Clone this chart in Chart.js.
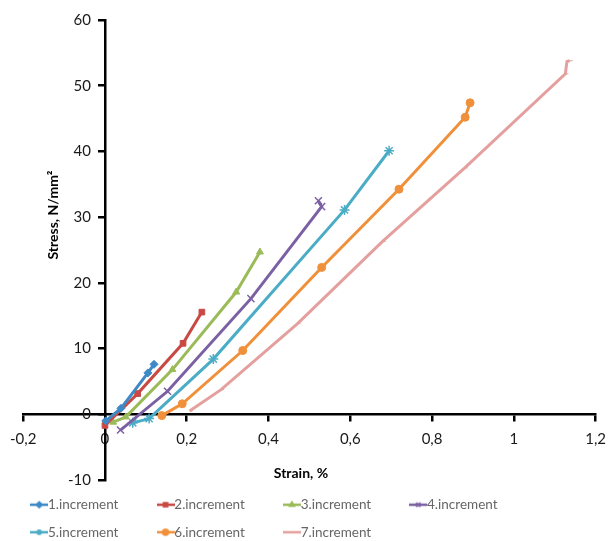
<!DOCTYPE html>
<html>
<head>
<meta charset="utf-8">
<script src="https://cdn.jsdelivr.net/npm/chart.js@4.4.0/dist/chart.umd.min.js"></script>
<style>
	html, body { margin: 0; padding: 0; background: #fff; }
</style>
</head>
<body>
<canvas id="chart" width="616" height="541"></canvas>
<script>
// данные
const seriesNames = ['1.increment', '2.increment', '3.increment', '4.increment', '5.increment', '6.increment', '7.increment']

const strain1 = [0.002, 0.039, 0.105, 0.12]
const stress1 = [-1.0, 0.9, 6.3, 7.6]
const strain2 = [0.0, 0.08, 0.191, 0.237]
const stress2 = [-1.7, 3.15, 10.8, 15.55]
const strain3 = [0.02, 0.051, 0.165, 0.321, 0.379]
const stress3 = [-1.2, -0.4, 6.8, 18.6, 24.7]
const strain4 = [0.038, 0.153, 0.357, 0.53, 0.522]
const stress4 = [-2.4, 3.5, 17.6, 31.6, 32.5]
const strain5 = [0.068, 0.108, 0.265, 0.586, 0.695]
const stress5 = [-1.3, -0.66, 8.4, 31.1, 40.1]
const strain6 = [0.139, 0.189, 0.337, 0.53, 0.719, 0.881, 0.893]
const stress6 = [-0.2, 1.6, 9.7, 22.35, 34.25, 45.2, 47.4]
const strain7 = [0.207, 0.284, 0.471, 0.679, 0.88, 1.126, 1.13, 1.137]
const stress7 = [0.5, 3.75, 13.8, 26.3, 37.5, 51.8, 53.7, 53.8]

const xTicks = [-0.2, 0, 0.2, 0.4, 0.6, 0.8, 1, 1.2]
const yTicks = [-10, 0, 10, 20, 30, 40, 50, 60]

const xTitle = 'Strain, %'
const yTitle = 'Stress, N/mm\u00B2'

const colors = ['#3D8AC7', '#C94A44', '#9BBB59', '#7B61A3', '#4BACC6', '#F0903A', '#E4A09E']
const markers = ['rectRot', 'rect', 'triangle', 'crossRot', 'star', 'circle', 'dash']

const strains = [strain1, strain2, strain3, strain4, strain5, strain6, strain7]
const stresses = [stress1, stress2, stress3, stress4, stress5, stress6, stress7]

const FONT = 'Lato'
const LEGEND_SIZE = 13.5

function toPoints(xs, ys) {
	return xs.map((x, i) => ({ x, y: ys[i] }))
}

function fmt(v) {
	return String(Math.round(v * 10) / 10).replace('.', ',')
}

// маленькая картинка для легенды: линия с маркером
function legendMarker(color, style) {
	const c = document.createElement('canvas')
	c.width = 18
	c.height = 10
	const g = c.getContext('2d')
	g.strokeStyle = color
	g.fillStyle = color
	g.lineWidth = 2.5
	g.beginPath()
	g.moveTo(0, 5)
	g.lineTo(18, 5)
	g.stroke()
	if (Chart.helpers && Chart.helpers.drawPoint) {
		g.lineWidth = 1.5
		Chart.helpers.drawPoint(g, { pointStyle: style, radius: 3, borderWidth: 1.5, rotation: 0 }, 9, 5)
	}
	return c
}

// подгоняем ширину подписей, чтобы колонки легенды были ровными
const measure = document.createElement('canvas').getContext('2d')
measure.font = LEGEND_SIZE + 'px ' + FONT
function padLabel(text, target) {
	let t = text
	while (measure.measureText(t + ' ').width <= target) t += ' '
	return t
}

const datasets = seriesNames.map((name, i) => ({
	label: name,
	data: toPoints(strains[i], stresses[i]),
	showLine: true,
	borderColor: colors[i],
	backgroundColor: colors[i],
	borderWidth: 3,
	pointStyle: markers[i],
	pointRadius: markers[i] === 'crossRot' || markers[i] === 'star' ? 5 : markers[i] === 'dash' ? 3 : 4,
	pointBorderWidth: markers[i] === 'crossRot' || markers[i] === 'star' ? 1.5 : 1,
	pointBackgroundColor: colors[i],
	pointBorderColor: colors[i],
	tension: 0,
}))

// подписи осей и подписи делений оси Y (ось стоит на x = 0)
const axisText = {
	id: 'axisText',
	afterDraw(chart) {
		const ctx = chart.ctx
		const xs = chart.scales.x
		const ys = chart.scales.y
		ctx.save()
		ctx.fillStyle = '#1a1a1a'
		ctx.font = '15px ' + FONT
		ctx.textAlign = 'right'
		ctx.textBaseline = 'middle'
		const x0 = xs.getPixelForValue(0)
		ys.ticks.forEach(t => {
			ctx.fillText(fmt(t.value), x0 - 14, ys.getPixelForValue(t.value))
		})
		ctx.fillStyle = '#000'
		ctx.font = 'bold 14px ' + FONT
		ctx.textAlign = 'center'
		ctx.fillText(xTitle, 301, 473)
		ctx.translate(53, 215)
		ctx.rotate(-Math.PI / 2)
		ctx.fillText(yTitle, 0, 0)
		ctx.restore()
	},
}

const axisStyle = {
	grid: { drawOnChartArea: false, drawTicks: true, tickLength: 6, color: '#000', lineWidth: 2.5 },
	border: { display: true, color: '#000', width: 2.5 },
}

new Chart(document.getElementById('chart'), {
	type: 'scatter',
	data: { datasets },
	options: {
		responsive: false,
		animation: false,
		devicePixelRatio: 1,
		layout: { padding: { left: 22, right: 14, top: 20, bottom: -8 } },
		scales: {
			x: {
				type: 'linear',
				position: { y: 0 },
				min: xTicks[0],
				max: xTicks[xTicks.length - 1],
				afterBuildTicks: scale => { scale.ticks = xTicks.map(v => ({ value: v })) },
				ticks: { callback: v => fmt(v), color: '#1a1a1a', font: { family: FONT, size: 15 }, padding: 10, maxRotation: 0 },
				...axisStyle,
			},
			y: {
				type: 'linear',
				position: { x: 0 },
				min: yTicks[0],
				max: yTicks[yTicks.length - 1],
				afterBuildTicks: scale => { scale.ticks = yTicks.map(v => ({ value: v })) },
				ticks: { display: false },
				...axisStyle,
			},
		},
		plugins: {
			tooltip: { enabled: false },
			legend: {
				position: 'bottom',
				align: 'start',
				fullSize: false,
				title: { display: true, text: '', padding: 0, font: { size: 4, lineHeight: '4px' } },
				labels: {
					usePointStyle: true,
					pointStyleWidth: 4,
					padding: 14,
					color: '#1a1a1a',
					font: { family: FONT, size: LEGEND_SIZE },
					generateLabels: chart =>
						chart.data.datasets.map((ds, i) => ({
							text: padLabel(ds.label, 102.7),
							pointStyle: legendMarker(colors[i], markers[i]),
							fillStyle: colors[i],
							strokeStyle: colors[i],
							lineWidth: 0,
							hidden: false,
							datasetIndex: i,
						})),
				},
			},
		},
	},
	plugins: [axisText],
})
</script>
</body>
</html>
